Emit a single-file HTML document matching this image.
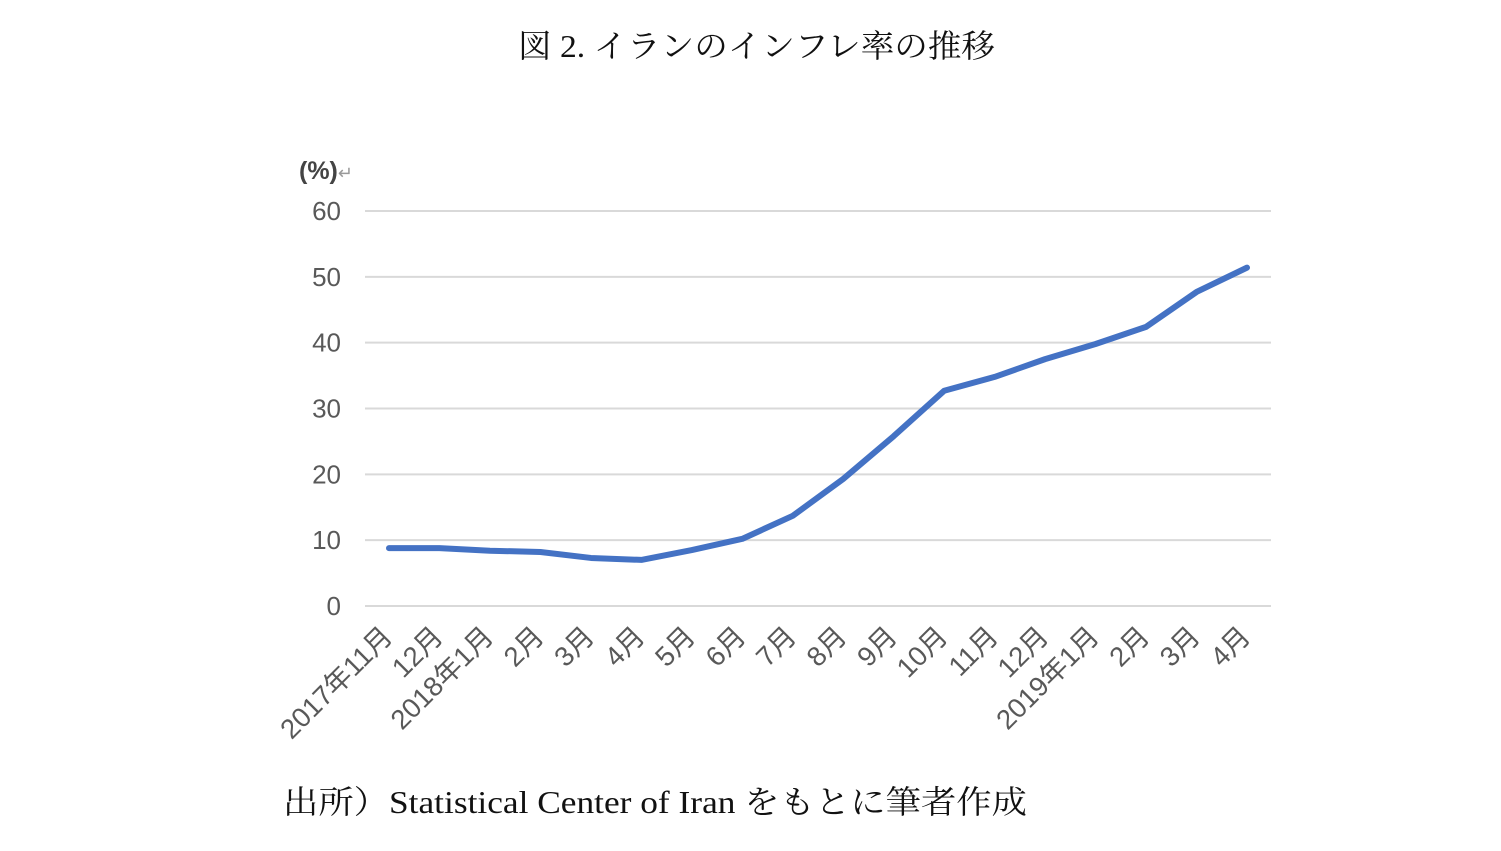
<!DOCTYPE html>
<html><head><meta charset="utf-8"><style>
body{margin:0;background:#fff;width:1501px;height:851px;overflow:hidden}
svg{display:block}
</style></head><body>
<svg id="c" width="1501" height="851">
<text x="518" y="57" textLength="477" lengthAdjust="spacingAndGlyphs" font-family="'Liberation Serif','Noto Serif CJK SC',serif" font-size="32" fill="#111">図 2. イランのインフレ率の推移</text>
<text x="299" y="179" font-family="'Liberation Sans',sans-serif" font-size="25" font-weight="bold" fill="#444">(%)<tspan fill="#999" font-size="18" font-weight="normal">↵</tspan></text>
<text x="283" y="813" textLength="744" lengthAdjust="spacingAndGlyphs" font-family="'Liberation Serif','Noto Serif CJK JP',serif" font-size="32" fill="#111">出所）Statistical Center of Iran をもとに筆者作成</text>
<g id="grid"></g><g id="yl"></g><g id="xl"></g>
<polyline id="line" fill="none" stroke="#4472c4" stroke-width="6" stroke-linejoin="round" stroke-linecap="round"/>
</svg>
<script>
const categories=["2017年11月","12月","2018年1月","2月","3月","4月","5月","6月","7月","8月","9月","10月","11月","12月","2019年1月","2月","3月","4月"];
const values=[8.8,8.8,8.4,8.2,7.3,7.0,8.5,10.2,13.7,19.3,25.8,32.7,34.8,37.5,39.8,42.4,47.7,51.4];
const yTicks=[0,10,20,30,40,50,60];
const NS="http://www.w3.org/2000/svg";
const y=v=>606-v*(395/60);
const x=i=>389+i*(858/(categories.length-1));
const grid=document.getElementById('grid'),yl=document.getElementById('yl'),xl=document.getElementById('xl');
yTicks.forEach(t=>{
 const l=document.createElementNS(NS,'line');
 l.setAttribute('x1',365);l.setAttribute('x2',1271);l.setAttribute('y1',y(t));l.setAttribute('y2',y(t));
 l.setAttribute('stroke','#d9d9d9');l.setAttribute('stroke-width','2');
 
 
 grid.appendChild(l);
 const tx=document.createElementNS(NS,'text');
 tx.setAttribute('x',341);tx.setAttribute('y',y(t)+9);tx.setAttribute('text-anchor','end');
 tx.setAttribute('font-family',"'Liberation Sans',sans-serif");tx.setAttribute('font-size','26');tx.setAttribute('fill','#595959');
 tx.textContent=t;
 
 
 yl.appendChild(tx);
});
categories.forEach((c,i)=>{
 const tx=document.createElementNS(NS,'text');
 const px=x(i)+5,py=638;
 tx.setAttribute('transform',`translate(${px},${py}) rotate(-45)`);
 tx.setAttribute('text-anchor','end');
 tx.setAttribute('font-family',"'Liberation Sans','Noto Sans CJK JP',sans-serif");tx.setAttribute('font-size','27.5');tx.setAttribute('fill','#595959');
 tx.textContent=c;
 
 
 xl.appendChild(tx);
});
document.getElementById('line').setAttribute('points',values.map((v,i)=>x(i)+','+y(v)).join(' '));
</script>
</body></html>
